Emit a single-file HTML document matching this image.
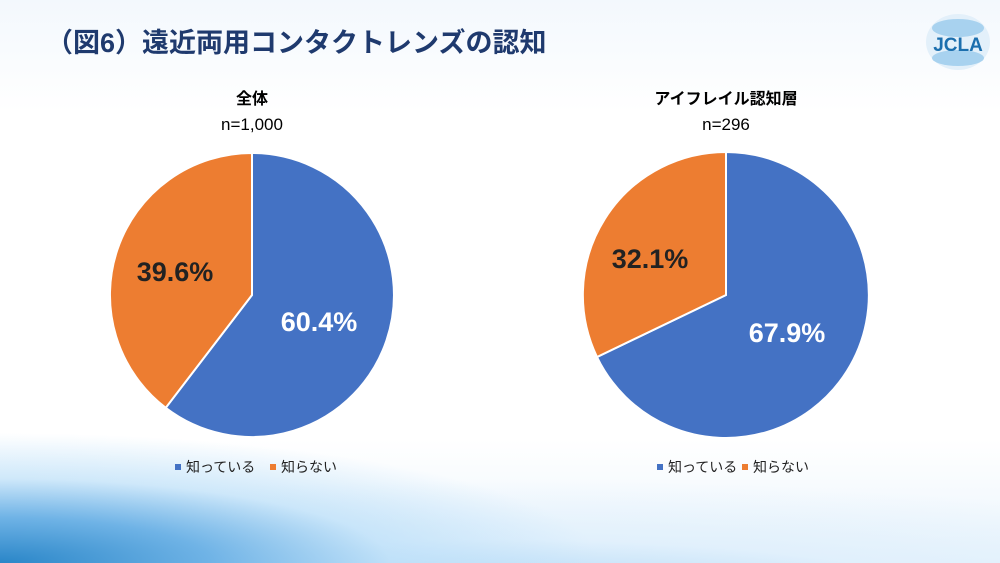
<!DOCTYPE html>
<html><head><meta charset="utf-8"><style>
body{margin:0;width:1000px;height:563px;overflow:hidden;font-family:"Liberation Sans","Noto Sans CJK JP",sans-serif;}
.bg{position:absolute;inset:0;background:
radial-gradient(ellipse 600px 130px at 0px 563px,#2a86c8 0%,#6fb3e6 35%,rgba(180,220,248,0.6) 65%,rgba(255,255,255,0) 100%),
radial-gradient(ellipse 900px 120px at 500px 600px,#a9d4f5 0%,rgba(220,238,252,0.7) 50%,rgba(255,255,255,0) 100%),
linear-gradient(#f3f8fd 0%,#ffffff 20%,#ffffff 78%,#eaf4fc 100%);}
</style></head><body>
<div class="bg"></div>
<svg width="1000" height="563" style="position:absolute;left:0;top:0" font-family="Liberation Sans, Noto Sans CJK JP, sans-serif">
<text x="46" y="52" font-size="27" font-weight="bold" fill="#1f3a6e">（図6）遠近両用コンタクトレンズの認知</text>
<ellipse cx="958" cy="42" rx="32" ry="28" fill="#e3f0fa"/>
<ellipse cx="958" cy="28" rx="26" ry="9" fill="#a8d2ef"/>
<ellipse cx="958" cy="58" rx="26" ry="8" fill="#a8d2ef"/>
<text x="958" y="51" font-size="19" font-weight="bold" fill="#1c6fae" text-anchor="middle">JCLA</text>

<text x="252" y="104" font-size="16" font-weight="bold" text-anchor="middle" fill="#000">全体</text>
<text x="252" y="130" font-size="17" text-anchor="middle" fill="#000">n=1,000</text>
<path d="M252,295 L252,153 A142,142 0 1 1 165.7,407.8 Z" fill="#4472c4" stroke="#fff" stroke-width="2"/>
<path d="M252,295 L165.7,407.8 A142,142 0 0 1 252,153 Z" fill="#ed7d31" stroke="#fff" stroke-width="2"/>
<text x="319" y="331" font-size="27" font-weight="bold" fill="#fff" text-anchor="middle">60.4%</text>
<text x="175" y="281" font-size="27" font-weight="bold" fill="#222" text-anchor="middle">39.6%</text>
<rect x="175" y="464" width="6" height="6" fill="#4472c4"/>
<text x="186" y="472" font-size="14" fill="#222">知っている</text>
<rect x="270" y="464" width="6" height="6" fill="#ed7d31"/>
<text x="281" y="472" font-size="14" fill="#222">知らない</text>

<text x="726" y="104" font-size="16" font-weight="bold" text-anchor="middle" fill="#000">アイフレイル認知層</text>
<text x="726" y="130" font-size="17" text-anchor="middle" fill="#000">n=296</text>
<path d="M726,295 L726,152 A143,143 0 1 1 597,357 Z" fill="#4472c4" stroke="#fff" stroke-width="2"/>
<path d="M726,295 L597,357 A143,143 0 0 1 726,152 Z" fill="#ed7d31" stroke="#fff" stroke-width="2"/>
<text x="787" y="342" font-size="27" font-weight="bold" fill="#fff" text-anchor="middle">67.9%</text>
<text x="650" y="268" font-size="27" font-weight="bold" fill="#222" text-anchor="middle">32.1%</text>
<rect x="657" y="464" width="6" height="6" fill="#4472c4"/>
<text x="668" y="472" font-size="14" fill="#222">知っている</text>
<rect x="742" y="464" width="6" height="6" fill="#ed7d31"/>
<text x="753" y="472" font-size="14" fill="#222">知らない</text>
</svg>
</body></html>
